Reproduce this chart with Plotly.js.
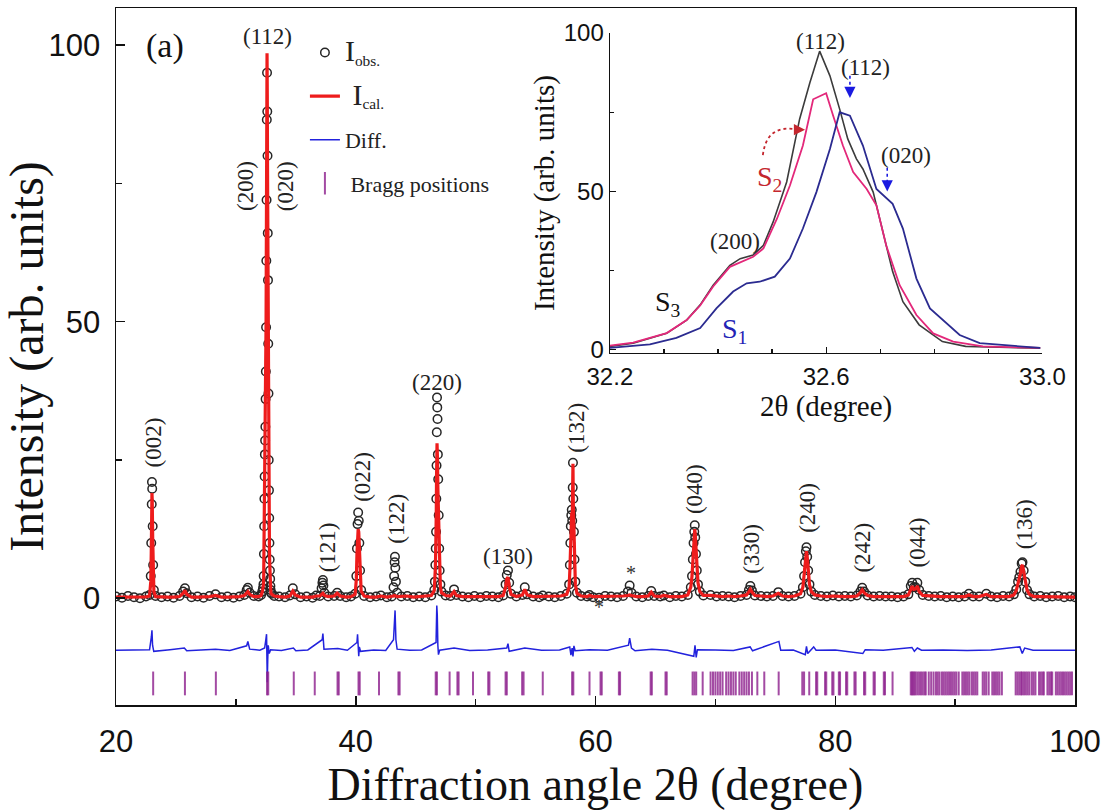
<!DOCTYPE html>
<html>
<head>
<meta charset="utf-8">
<script src="https://cdn.plot.ly/plotly-3.0.1.min.js"></script>
<style>html,body{margin:0;padding:0;background:#fff;}#chart{width:1104px;height:810px;}</style>
</head>
<body>
<div id="chart"></div>
<script>
// ---------------- main pattern data (2θ in degree, intensity in arb. units) ----------------
const twoTheta = [
  20.0,20.5,21.0,21.5,22.0,22.5,22.8,22.9,22.94,22.98,23.0,23.02,23.06,23.1,23.16,
  23.3,23.8,24.3,24.8,25.3,25.6,25.75,25.9,26.3,26.8,27.3,27.8,28.3,28.8,29.3,29.8,30.3,30.7,30.9,31.0,31.15,31.5,31.9,32.1,32.2,32.26,
  32.30,32.32,32.34,32.36,32.38,32.40,32.42,32.44,32.46,32.48,32.50,32.52,32.54,32.56,32.58,32.60,32.62,32.64,32.66,32.68,32.70,32.72,32.74,32.76,32.78,32.80,32.82,32.84,32.86,32.88,32.90,32.92,
  33.0,33.2,33.6,34.1,34.5,34.75,34.95,35.4,35.9,36.4,36.7,37.0,37.15,37.22,37.26,37.3,37.38,
  37.7,38.2,38.45,38.7,39.2,39.6,39.95,40.05,40.1,40.15,40.2,40.25,40.3,40.36,40.45,
  40.7,41.2,41.7,42.1,42.6,43.0,43.15,43.2,43.24,43.27,43.3,43.35,43.45,
  43.8,44.3,44.8,45.3,45.8,46.3,46.55,46.6,46.64,46.67,46.7,46.72,46.74,46.76,46.78,46.8,46.82,46.85,46.88,46.92,46.96,47.0,47.06,47.15,
  47.5,47.9,48.2,48.4,48.9,49.4,49.9,50.4,50.9,51.4,51.9,52.3,52.5,52.6,52.7,52.8,52.95,
  53.4,53.9,54.1,54.3,54.8,55.3,55.6,56.1,56.6,57.1,57.6,57.8,57.86,57.9,57.94,57.98,58.02,58.06,58.1,58.12,58.15,58.2,58.25,58.32,58.45,
  58.8,59.3,59.5,59.8,60.3,60.8,61.3,61.8,62.3,62.7,62.85,63.0,63.4,
  63.9,64.4,64.65,64.9,65.4,65.7,66.2,66.7,67.2,67.7,67.95,68.05,68.12,68.18,68.24,68.28,68.32,68.38,68.45,68.55,68.7,69.0,
  69.6,70.1,70.6,71.1,71.6,72.1,72.6,72.8,72.92,73.05,73.3,
  73.8,74.3,74.8,75.25,75.6,76.1,76.6,77.1,77.3,77.4,77.48,77.55,77.6,77.66,77.74,77.85,78.0,78.3,
  78.8,79.3,79.8,80.3,80.8,81.3,81.8,82.1,82.25,82.4,82.7,
  83.2,83.7,84.2,84.7,85.2,85.7,86.1,86.3,86.42,86.55,86.7,86.85,87.0,87.3,
  87.8,88.3,88.8,89.3,89.8,90.3,90.8,91.15,91.5,92.0,92.6,93.0,
  93.5,94.0,94.5,94.9,95.1,95.25,95.35,95.45,95.55,95.62,95.72,95.85,96.0,96.2,96.6,97.1,97.6,98.1,98.6,99.1,99.6,100.0
];
const intensityObs = [
  0.3,0.1,0.4,0.2,0.0,0.3,0.6,4,10,17,21,19.8,13,6,1.5,
  0.4,0.2,0.3,0.1,0.4,1.2,1.8,0.9,0.2,0.3,0.1,0.4,0.7,0.2,0.3,0.1,0.3,0.6,1.5,1.9,1.0,0.4,0.3,0.6,1.2,1.8,
  2.5,4,8,13,18,22,26,28.5,31,36,41,49,61,72,86.5,95,88,80,66,57.5,46,37,25,19.5,14.5,10,7,5,3.5,2.2,1.5,1.0,
  0.8,0.4,0.3,0.2,0.5,1.8,0.7,0.2,0.3,0.1,0.5,0.4,1.8,2.8,3.3,2.3,1.0,
  0.3,0.4,1.0,0.4,0.2,0.3,0.8,4,9,13.4,15.5,14,10,5,1.5,
  0.4,0.2,0.3,0.5,0.2,0.3,2.0,4.0,6.5,7.5,5.5,3.0,1.0,
  0.3,0.4,0.2,0.3,0.2,0.5,1.5,3,6,9,12,18,24,30,36.3,34.5,32.4,26,21.5,15,9,5,2.5,1.2,
  0.5,0.4,1.6,0.6,0.3,0.2,0.4,0.2,0.4,0.3,0.2,0.5,2.5,4.2,5,2.8,0.8,
  0.3,0.6,2.0,0.7,0.3,0.2,0.5,0.3,0.2,0.4,0.8,2.5,6,10,13,15,16,14,20,24.5,18,12,7,3,1,
  0.4,0.3,0.6,0.2,0.1,0.4,0.3,0.2,0.4,1.2,2.3,1.0,0.3,
  0.2,0.4,1.3,0.4,0.3,0.5,0.2,0.4,0.3,0.6,2,4,7,10,12,13.2,11,8,5,2.5,1.2,0.5,
  0.6,0.3,0.4,0.3,0.2,0.4,0.6,1.5,2.2,1.4,0.5,
  0.4,0.3,0.4,1.1,0.4,0.3,0.4,0.8,2,4,6.5,8.5,9.2,7.5,5,2.5,1.2,0.6,
  0.4,0.3,0.5,0.3,0.4,0.3,0.5,1.2,1.9,1.2,0.5,
  0.3,0.4,0.3,0.3,0.2,0.3,0.7,2.2,2.8,2.0,2.0,2.8,1.5,0.6,
  0.4,0.3,0.4,0.2,0.3,0.2,0.3,0.8,0.3,0.3,0.8,0.3,
  0.2,0.4,0.3,0.7,1.6,3,3.8,4.8,6.3,6.5,5,3,1.5,0.7,0.3,0.4,0.2,0.3,0.4,0.2,0.3,0.2
];
const intensityCal = [
  0.2,0.2,0.2,0.2,0.2,0.25,0.4,3,8,15,19,18,11,5,1.2,
  0.3,0.2,0.2,0.2,0.3,0.9,1.4,0.7,0.2,0.2,0.2,0.3,0.5,0.2,0.2,0.2,0.3,0.5,1.0,1.2,0.7,0.3,0.3,0.5,1.1,1.7,
  2.4,3.8,7.5,12,17,21,24.5,27,30,34,40,50,63,78,92,98.5,91,78,64,55,44,34,24,18,13,9,6.5,4.6,3.2,2.1,1.4,0.9,
  0.7,0.4,0.3,0.2,0.4,1.3,0.6,0.2,0.2,0.2,0.4,0.4,0.7,0.9,0.9,0.8,0.5,
  0.3,0.4,0.9,0.4,0.2,0.3,0.7,3.5,8,12.2,12.5,12,9.5,4.5,1.3,
  0.4,0.2,0.2,0.4,0.2,0.3,0.4,0.5,0.5,0.5,0.5,0.4,0.3,
  0.3,0.4,0.2,0.3,0.3,0.5,1.4,2.8,5.5,8.5,11,16,22,26,28,27,25,20,17,12,7.5,4,2,1,
  0.5,0.4,1.2,0.5,0.3,0.3,0.3,0.3,0.4,0.3,0.3,0.5,2.0,3.5,3.8,2.2,0.7,
  0.3,0.6,1.6,0.6,0.3,0.3,0.4,0.3,0.3,0.4,0.7,2.0,5,9,12.5,15,15.5,14,19,24.3,17,11,6,2.5,0.9,
  0.4,0.3,0.5,0.3,0.3,0.3,0.3,0.3,0.4,0.5,0.6,0.5,0.3,
  0.3,0.4,1.1,0.4,0.3,0.5,0.3,0.3,0.3,0.6,2,4,7,10,12.3,12.5,11.5,8.5,5.5,2.8,1.2,0.5,
  0.5,0.4,0.3,0.4,0.3,0.4,0.6,1.2,1.6,1.1,0.5,
  0.4,0.3,0.4,0.9,0.4,0.3,0.4,0.8,2,4,6.5,8.2,8.5,7.5,5,2.5,1.2,0.6,
  0.4,0.3,0.4,0.3,0.3,0.3,0.4,1.0,1.5,1.0,0.5,
  0.3,0.3,0.3,0.3,0.3,0.3,0.6,1.8,2.2,1.6,1.7,2.2,1.2,0.5,
  0.4,0.3,0.3,0.3,0.3,0.3,0.3,0.6,0.3,0.3,0.7,0.3,
  0.3,0.3,0.3,0.6,1.4,2.7,3.5,4.5,5.8,6.0,4.8,3,1.5,0.7,0.3,0.3,0.3,0.3,0.3,0.3,0.3,0.2
];
// difference (Iobs - Ical), drawn shifted below the pattern
const diffTheta = [20,21.5,22.8,22.95,23.0,23.05,23.15,24.5,25.7,25.9,27,28.3,29.5,30.9,31.0,31.15,32.0,32.4,32.5,32.56,32.6,32.62,32.66,32.7,32.78,32.9,33.8,34.8,35.0,36.0,37.2,37.26,37.35,38.5,39.3,40.1,40.15,40.2,40.25,40.3,40.4,41.5,42.5,43.15,43.24,43.28,43.35,43.45,44.5,45.5,46.7,46.76,46.8,46.85,46.9,47.0,48.2,49.5,51.0,52.6,52.7,52.8,54.1,55.5,57.0,57.85,57.95,58.05,58.12,58.2,58.3,59.5,61.0,62.75,62.85,63.0,63.3,64.7,66.0,68.2,68.3,68.4,68.5,70.0,71.5,72.9,73.1,75.3,75.45,76.5,77.5,77.6,77.7,78.2,78.4,80.0,82.3,82.5,84.0,86.4,86.6,86.85,87.2,89.0,91.0,93.0,95.4,95.6,95.8,96.5,98.0,100];
const diffValue = [0,0.1,0.1,2.4,3.6,0.9,-0.2,0.1,0.4,-0.1,0.05,0.2,-0.05,0.8,1.6,0.2,0.0,0.4,1.9,2.9,-2.6,-5.8,-1.6,0.9,-0.6,0.1,-0.05,0.4,-0.1,0.05,1.9,3.0,0.2,0.3,0.0,1.4,2.9,0.9,-1.1,0.6,-0.2,0.05,-0.05,1.9,6.9,7.2,1.9,0.2,0,0.05,1.4,8.1,6.4,0.9,-0.8,0,0.4,-0.05,0.05,0.4,1.2,-0.2,0.4,0.0,0.05,0.6,-0.9,0.4,-1.1,0.8,-0.1,0.1,0.0,0.9,2.2,0.4,-0.1,0.2,0.0,-1.1,0.9,-1.3,0.1,0.05,-0.05,0.6,-0.1,1.6,0.0,0.05,-0.8,0.7,-0.6,0.6,0.0,0.05,-0.6,0.1,0.0,0.5,-0.2,0.4,0.0,0.05,-0.05,0.05,0.6,-0.6,0.4,0.0,0.05,0];
// Bragg reflection positions (2θ)
const braggPositions = [23.1,25.75,28.33,32.6,32.7,34.83,36.58,38.48,38.58,40.23,40.33,41.94,43.56,43.66,46.67,46.77,47.83,48.48,48.58,49.78,51.05,51.15,52.5,52.6,53.88,54.0,55.6,58.05,58.15,59.5,60.42,60.52,61.95,62.05,64.6,64.7,65.84,65.94,68.1,68.25,68.4,68.94,69.6,69.8,70.0,70.2,70.4,70.6,70.9,71.1,71.3,71.5,71.7,72.0,72.2,72.4,72.6,72.8,73.05,73.5,74.08,75.28,77.25,77.4,77.83,78.4,78.5,79.15,79.25,79.75,79.85,80.3,80.4,80.9,81.0,81.6,81.7,82.4,82.5,83.2,83.3,84.05,84.15,84.78,86.3,86.4,86.5,86.6,86.7,86.85,87.0,87.15,87.3,87.45,87.55,87.8,88.0,88.2,88.4,88.55,88.7,88.9,89.05,89.2,89.35,89.5,89.65,89.8,89.95,90.1,90.3,90.6,90.75,90.9,91.05,91.2,91.4,91.55,91.7,91.85,92.3,92.45,92.6,92.8,93.1,93.25,93.4,93.55,93.7,93.9,95.05,95.2,95.35,95.5,95.6,95.75,95.9,96.05,96.2,96.4,96.55,96.7,97.0,97.15,97.3,97.4,97.7,97.85,98.0,98.1,98.4,98.55,98.7,98.85,99.0,99.15,99.3,99.45,99.6,99.75];

// ---------------- inset data: (112) region for three samples ----------------
const s3Theta = [32.2,32.243,32.305,32.342,32.367,32.391,32.422,32.441,32.465,32.484,32.502,32.527,32.551,32.57,32.588,32.607,32.625,32.64,32.656,32.668,32.687,32.705,32.723,32.742,32.772,32.815,32.858,32.92,32.996];
const s3Int   = [1.1,2.1,5.2,9.4,14.2,20.4,26.7,28.8,29.9,33,40.4,53,72.9,84.4,94.3,86.5,76,66.6,60.3,57.1,49.8,37.2,24.7,15.2,7.9,2.6,1.1,0.8,0.5];
const s2Theta = [32.2,32.243,32.305,32.342,32.367,32.391,32.422,32.441,32.465,32.484,32.509,32.533,32.557,32.576,32.6,32.613,32.631,32.65,32.675,32.693,32.711,32.736,32.767,32.798,32.835,32.89,32.996];
const s2Int   = [1.3,2.3,5.3,9.4,14.0,20,26.2,27.6,29.4,32,41.4,51.9,64.5,79.1,81,73.9,64.5,56.1,50.8,45.6,33,20.4,11,5.2,2.6,1.1,0.6];
const s1Theta = [32.2,32.274,32.323,32.367,32.397,32.428,32.453,32.477,32.505,32.533,32.557,32.582,32.607,32.625,32.644,32.668,32.693,32.723,32.742,32.767,32.792,32.822,32.847,32.884,32.952,32.996];
const s1Int   = [0.6,1.7,3.8,6.9,13.1,18.4,21,21.5,23.1,28.8,38.3,49.8,63.4,75,73.9,64.5,50.8,46.1,38.3,22.5,13.1,8.4,4.7,2.1,1.1,0.6];

if (twoTheta.length !== intensityObs.length || twoTheta.length !== intensityCal.length || diffTheta.length !== diffValue.length) {
  throw new Error('length mismatch ' + twoTheta.length + ' ' + intensityObs.length + ' ' + intensityCal.length + ' ' + diffTheta.length + ' ' + diffValue.length);
}

// ---------------- styling ----------------
const SERIF = 'Liberation Serif, Times New Roman, serif';
const SANS = 'Liberation Sans, Arial, sans-serif';
const DIFF_OFFSET = -9.4;
const BRAGG_ROW = -15.4;

const traces = [
  {x: twoTheta, y: intensityObs, type: 'scatter', mode: 'markers',
   name: '<span style="font-size:30px">I</span><sub>obs.</sub>', legendgroup: 'a',
   marker: {symbol: 'circle-open', size: 8.5, color: '#262626', line: {width: 1.5, color: '#262626'}}},
  {x: twoTheta, y: intensityCal, type: 'scatter', mode: 'lines',
   name: '<span style="font-size:30px"> I</span><sub>cal.</sub>', legendgroup: 'b',
   line: {color: '#ee1c1c', width: 3.2}},
  {x: diffTheta, y: diffValue.map(v => v + DIFF_OFFSET), type: 'scatter', mode: 'lines',
   name: 'Diff.', legendgroup: 'c', line: {color: '#2222dd', width: 1.5}},
  {x: braggPositions, y: braggPositions.map(() => BRAGG_ROW), type: 'scatter', mode: 'markers',
   name: ' Bragg positions', legendgroup: 'd',
   marker: {symbol: 'line-ns', size: 17, color: '#8c1f8c', line: {width: 2, color: 'rgba(140,30,140,0.8)'}}},
  {x: s3Theta, y: s3Int, xaxis: 'x2', yaxis: 'y2', type: 'scatter', mode: 'lines', showlegend: false,
   line: {color: '#3c3c3c', width: 1.6}},
  {x: s2Theta, y: s2Int, xaxis: 'x2', yaxis: 'y2', type: 'scatter', mode: 'lines', showlegend: false,
   line: {color: '#e3287a', width: 1.8}},
  {x: s1Theta, y: s1Int, xaxis: 'x2', yaxis: 'y2', type: 'scatter', mode: 'lines', showlegend: false,
   line: {color: '#2b2b90', width: 1.8}}
];

const peakLabels = [
  {t: '(112)', x: 32.67, y: 101.6, a: 0},
  {t: '(200)', x: 30.75, y: 74.5, a: -90},
  {t: '(020)', x: 34.1, y: 74.5, a: -90},
  {t: '(002)', x: 23.1, y: 28.2, a: -90},
  {t: '(121)', x: 37.6, y: 9.2, a: -90},
  {t: '(022)', x: 40.5, y: 21.9, a: -90},
  {t: '(122)', x: 43.4, y: 14.3, a: -90},
  {t: '(220)', x: 46.75, y: 39.0, a: 0},
  {t: '(130)', x: 52.7, y: 7.6, a: 0},
  {t: '(132)', x: 58.4, y: 30.9, a: -90},
  {t: '(040)', x: 68.25, y: 19.8, a: -90},
  {t: '(330)', x: 73.0, y: 9.0, a: -90},
  {t: '(240)', x: 77.67, y: 16.4, a: -90},
  {t: '(242)', x: 82.25, y: 9.2, a: -90},
  {t: '(044)', x: 86.83, y: 10.1, a: -90},
  {t: '(136)', x: 95.75, y: 13.4, a: -90}
];
const annotations = peakLabels.map(p => ({
  text: p.t, x: p.x, y: p.y, xref: 'x', yref: 'y', showarrow: false, textangle: p.a,
  font: {family: SERIF, size: 23, color: '#222'}
}));
annotations.push(
  {text: '(a)', x: 24.1, y: 99.8, xref: 'x', yref: 'y', showarrow: false, font: {family: SERIF, size: 34, color: '#111'}},
  {text: '*', x: 63.0, y: 4.6, xref: 'x', yref: 'y', showarrow: false, font: {family: SERIF, size: 20, color: '#333'}},
  {text: '*', x: 60.3, y: -1.5, xref: 'x', yref: 'y', showarrow: false, font: {family: SERIF, size: 20, color: '#333'}},
  // inset labels
  {text: '(112)', x: 32.589, y: 97.4, xref: 'x2', yref: 'y2', showarrow: false, font: {family: SERIF, size: 23, color: '#222'}},
  {text: '(112)', x: 32.672, y: 89.2, xref: 'x2', yref: 'y2', showarrow: false, font: {family: SERIF, size: 23, color: '#222'}},
  {text: '(020)', x: 32.748, y: 61.2, xref: 'x2', yref: 'y2', showarrow: false, font: {family: SERIF, size: 23, color: '#222'}},
  {text: '(200)', x: 32.431, y: 34.2, xref: 'x2', yref: 'y2', showarrow: false, font: {family: SERIF, size: 23, color: '#222'}},
  {text: 'S<sub>2</sub>', x: 32.496, y: 54.0, xref: 'x2', yref: 'y2', showarrow: false, font: {family: SERIF, size: 28, color: '#c4262e'}},
  {text: 'S<sub>3</sub>', x: 32.307, y: 14.5, xref: 'x2', yref: 'y2', showarrow: false, font: {family: SERIF, size: 28, color: '#111'}},
  {text: 'S<sub>1</sub>', x: 32.431, y: 6.0, xref: 'x2', yref: 'y2', showarrow: false, font: {family: SERIF, size: 28, color: '#2323b5'}},
  // arrow heads (the dotted shafts are shapes below)
  {text: '', x: 32.644, y: 79.5, xref: 'x2', yref: 'y2', showarrow: true, ax: 0, ay: -8, arrowhead: 2, arrowsize: 1.4, arrowwidth: 1.6, arrowcolor: '#1a1ae0'},
  {text: '', x: 32.713, y: 50.0, xref: 'x2', yref: 'y2', showarrow: true, ax: 0, ay: -8, arrowhead: 2, arrowsize: 1.4, arrowwidth: 1.6, arrowcolor: '#1a1ae0'},
  {text: '', x: 32.561, y: 69.5, xref: 'x2', yref: 'y2', showarrow: true, ax: -8, ay: 0, arrowhead: 2, arrowsize: 1.4, arrowwidth: 1.6, arrowcolor: '#c4262e'}
);

const shapes = [
  {type: 'line', xref: 'x2', yref: 'y2', x0: 32.644, x1: 32.644, y0: 86.5, y1: 81.5, line: {color: '#1a1ae0', width: 1.6, dash: 'dot'}},
  {type: 'line', xref: 'x2', yref: 'y2', x0: 32.713, x1: 32.713, y0: 57.5, y1: 52.0, line: {color: '#1a1ae0', width: 1.6, dash: 'dot'}},
  {type: 'path', xref: 'x2', yref: 'y2', path: 'M 32.483,61.5 Q 32.49,71.5 32.548,69.5', line: {color: '#c4262e', width: 1.8, dash: 'dot'}}
];

const axisCommon = {
  showline: true, linecolor: '#111', linewidth: 1.5, showgrid: false, zeroline: false,
  ticks: 'inside', tickcolor: '#111', tickwidth: 1.5
};

const layout = {
  width: 1104, height: 810,
  margin: {l: 116, r: 29, t: 8, b: 105},
  paper_bgcolor: '#fff', plot_bgcolor: '#fff',
  showlegend: true,
  legend: {x: 0.197, y: 0.966, xanchor: 'left', yanchor: 'top', bgcolor: 'rgba(0,0,0,0)',
           font: {family: SERIF, size: 22, color: '#222'}, tracegroupgap: 12, traceorder: 'grouped'},
  xaxis: Object.assign({}, axisCommon, {
    domain: [0, 1], range: [20, 100], mirror: true, tickvals: [20, 40, 60, 80, 100], ticklen: 9,
    minor: {tickvals: [30, 50, 70, 90], ticks: 'inside', ticklen: 6, tickcolor: '#111'},
    tickfont: {family: SANS, size: 31, color: '#111'}, ticklabelstandoff: 8,
    title: {text: 'Diffraction angle 2θ (degree)', font: {family: SERIF, size: 46, color: '#111'}, standoff: 4}
  }),
  yaxis: Object.assign({}, axisCommon, {
    domain: [0, 1], range: [-19.3, 106.7], mirror: true, tickvals: [0, 50, 100], ticklen: 9,
    minor: {tickvals: [25, 75], ticks: 'inside', ticklen: 6, tickcolor: '#111'},
    tickfont: {family: SANS, size: 31, color: '#111'}, ticklabelstandoff: 8,
    title: {text: 'Intensity (arb. units)', font: {family: SERIF, size: 48, color: '#111'}, standoff: 0}
  }),
  xaxis2: Object.assign({}, axisCommon, {
    domain: [0.515, 0.966], anchor: 'y2', range: [32.2, 33.0],
    tickvals: [32.2, 32.6, 33.0], ticktext: ['32.2', '32.6', '33.0'], ticklen: 6, tickwidth: 1.2, linewidth: 1.3,
    minor: {tickvals: [32.3, 32.4, 32.5, 32.7, 32.8, 32.9], ticks: 'inside', ticklen: 4, tickcolor: '#111'},
    tickfont: {family: SANS, size: 24, color: '#111'}, ticklabelstandoff: 2,
    title: {text: '2θ (degree)', font: {family: SERIF, size: 29, color: '#111'}, standoff: 2}
  }),
  yaxis2: Object.assign({}, axisCommon, {
    domain: [0.505, 0.964], anchor: 'x2', range: [-1, 100],
    tickvals: [0, 50, 100], ticklen: 6, tickwidth: 1.2, linewidth: 1.3,
    minor: {tickvals: [25, 75], ticks: 'inside', ticklen: 4, tickcolor: '#111'},
    tickfont: {family: SANS, size: 24, color: '#111'}, ticklabelstandoff: 0,
    title: {text: 'Intensity (arb. units)', font: {family: SERIF, size: 29, color: '#111'}, standoff: 0}
  }),
  annotations: annotations,
  shapes: shapes
};

Plotly.newPlot('chart', traces, layout, {displayModeBar: false, staticPlot: true});
</script>
</body>
</html>
